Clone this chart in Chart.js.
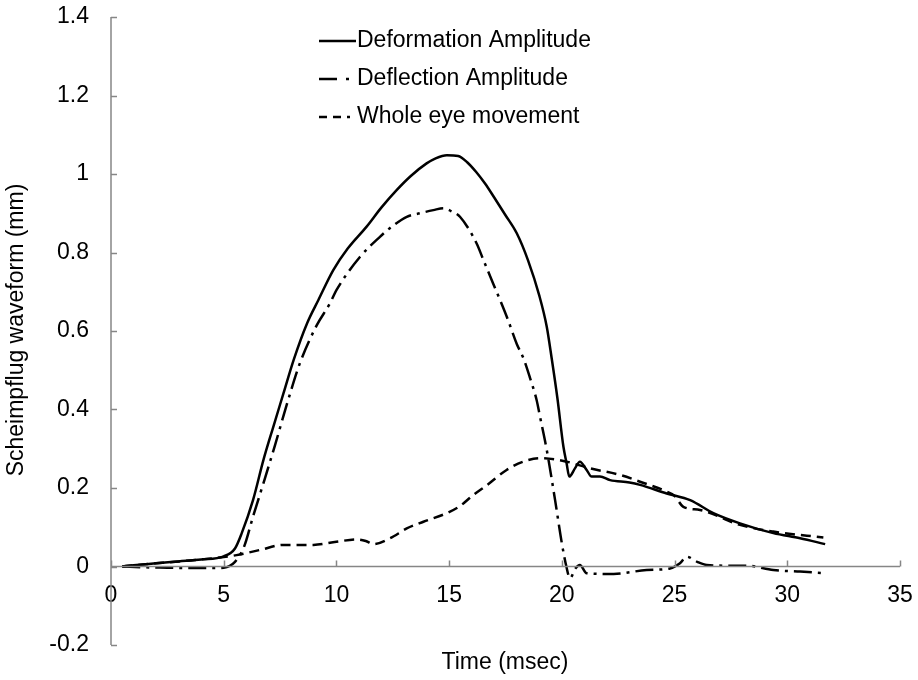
<!DOCTYPE html>
<html>
<head>
<meta charset="utf-8">
<script src="https://cdn.jsdelivr.net/npm/chart.js@4.4.0/dist/chart.umd.min.js"></script>
<style>
  html, body { margin: 0; padding: 0; background: #fff; }
</style>
</head>
<body>
<canvas id="waveChart" width="918" height="680"></canvas>
<script>
// Series data (time in msec, value in mm)
const deformTime = [0.5, 1, 2, 3, 4, 5, 5.5, 5.8, 6.3, 6.76, 7.2, 7.65, 8.1, 8.7, 9.2, 9.86, 10.5, 11.34, 12.0, 12.67, 13.3, 14.0, 14.4, 14.9, 15.4, 15.8, 16.2, 16.6, 17.0, 17.5, 18.0, 18.5, 19.0, 19.33, 19.55, 19.8, 20.07, 20.21, 20.33, 20.58, 20.8, 21.1, 21.32, 21.69, 22.14, 23.0, 23.47, 24.65, 25.69, 26.72, 27.9, 29.38, 30.57, 31.68];
const deformValue = [0, 0.003, 0.008, 0.013, 0.018, 0.026, 0.046, 0.085, 0.169, 0.271, 0.356, 0.441, 0.526, 0.62, 0.679, 0.755, 0.81, 0.866, 0.915, 0.959, 0.995, 1.027, 1.04, 1.048, 1.046, 1.03, 1.005, 0.975, 0.94, 0.895, 0.849, 0.78, 0.69, 0.611, 0.53, 0.43, 0.305, 0.263, 0.229, 0.25, 0.267, 0.246, 0.229, 0.229, 0.22, 0.214, 0.208, 0.186, 0.169, 0.136, 0.11, 0.085, 0.072, 0.057];

const deflectTime = [0.5, 1.5, 2.5, 3.5, 4.5, 5.0, 5.5, 5.9, 6.3, 6.76, 7.28, 7.79, 8.38, 9.13, 9.71, 10.0, 11.05, 11.93, 12.5, 13.12, 13.7, 14.3, 14.75, 15.1, 15.48, 16.22, 16.52, 16.96, 17.26, 17.6, 18.0, 18.3, 18.59, 18.88, 19.03, 19.33, 19.7, 20.0, 20.2, 20.36, 20.6, 20.8, 21.1, 22.3, 23.76, 24.8, 25.24, 25.54, 26.0, 26.43, 27.6, 28.2, 29.38, 30.57, 31.68];
const deflectValue = [0, -0.002, -0.003, -0.004, -0.004, -0.003, 0.012, 0.05, 0.127, 0.212, 0.31, 0.411, 0.518, 0.615, 0.67, 0.704, 0.789, 0.84, 0.868, 0.891, 0.9, 0.908, 0.913, 0.905, 0.891, 0.823, 0.781, 0.72, 0.679, 0.63, 0.567, 0.53, 0.48, 0.424, 0.382, 0.297, 0.169, 0.059, 0.0, -0.03, -0.005, 0.004, -0.017, -0.019, -0.009, -0.005, 0.008, 0.025, 0.012, 0.004, 0.002, 0.002, -0.009, -0.013, -0.017];

const eyeTime = [0.5, 1, 2, 3, 4, 5, 5.57, 6.6, 7.65, 8.98, 10.0, 10.9, 11.3, 11.64, 12.38, 13.12, 13.86, 14.9, 15.48, 16.07, 16.67, 17.55, 18.29, 19.03, 20.07, 21.26, 22.6, 23.47, 24.65, 25.0, 25.39, 26.13, 27.9, 29.38, 31.6];
const eyeValue = [0, 0.003, 0.008, 0.013, 0.018, 0.024, 0.029, 0.042, 0.055, 0.055, 0.063, 0.069, 0.065, 0.057, 0.072, 0.097, 0.114, 0.136, 0.154, 0.182, 0.207, 0.246, 0.267, 0.276, 0.269, 0.25, 0.233, 0.216, 0.191, 0.18, 0.152, 0.144, 0.106, 0.089, 0.074];

const seriesNames = ['Deformation Amplitude', 'Deflection Amplitude', 'Whole eye movement'];
const xTitle = 'Time (msec)';
const yTitle = 'Scheimpflug waveform (mm)';

const FONT = 'Arial, "Liberation Sans", sans-serif';
const FONT_SIZE = 23;
const AXIS_COLOR = '#868686';

function toPoints(xs, ys) {
  return xs.map((x, i) => ({ x: x, y: ys[i] }));
}

// keep the plot area exactly where the layout padding puts it
function noOverhang(scale) {
  scale.paddingTop = 0;
  scale.paddingBottom = 0;
  scale.paddingLeft = 0;
  scale.paddingRight = 0;
}

// Axes, titles and legend drawn by hand to look like the original
const decorPlugin = {
  id: 'decor',
  afterDraw(chart) {
    const ctx = chart.ctx;
    const xs = chart.scales.x;
    const ys = chart.scales.y;
    const area = chart.chartArea;
    const x0 = xs.getPixelForValue(0);
    const y0 = ys.getPixelForValue(0);

    ctx.save();
    ctx.strokeStyle = AXIS_COLOR;
    ctx.lineWidth = 1.5;
    ctx.beginPath();
    ctx.moveTo(x0, area.top);
    ctx.lineTo(x0, area.bottom);
    for (let v = -0.2; v <= 1.401; v += 0.2) {
      const py = Math.round(ys.getPixelForValue(v)) + 0.5;
      ctx.moveTo(x0, py);
      ctx.lineTo(x0 + 6, py);
    }
    ctx.moveTo(area.left, y0);
    ctx.lineTo(area.right, y0);
    for (let v = 0; v <= 35; v += 5) {
      const px = Math.round(xs.getPixelForValue(v)) + 0.5;
      ctx.moveTo(px, y0);
      ctx.lineTo(px, y0 - 6);
    }
    ctx.stroke();

    // titles
    ctx.fillStyle = '#000';
    ctx.font = FONT_SIZE + 'px ' + FONT;
    ctx.textAlign = 'center';
    ctx.textBaseline = 'middle';
    ctx.fillText(xTitle, 505, 663);
    ctx.translate(17, 330);
    ctx.rotate(-Math.PI / 2);
    ctx.fillText(yTitle, 0, 0);
    ctx.restore();

    // legend
    ctx.save();
    const rows = [41, 79, 117];
    chart.data.datasets.forEach((ds, i) => {
      ctx.strokeStyle = '#000';
      ctx.lineWidth = 2.5;
      ctx.setLineDash(ds.legendDash);
      ctx.beginPath();
      ctx.moveTo(319, rows[i]);
      ctx.lineTo(i === 0 ? 356 : 350, rows[i]);
      ctx.stroke();
      ctx.setLineDash([]);
      ctx.fillStyle = '#000';
      ctx.font = FONT_SIZE + 'px ' + FONT;
      ctx.textAlign = 'left';
      ctx.textBaseline = 'middle';
      ctx.fillText(ds.label, 357, rows[i]);
    });
    ctx.restore();
  }
};

new Chart(document.getElementById('waveChart').getContext('2d'), {
  type: 'line',
  data: {
    datasets: [
      {
        label: seriesNames[0],
        data: toPoints(deformTime, deformValue),
        borderColor: '#000',
        borderWidth: 2.5,
        borderDash: [],
        legendDash: [],
        pointRadius: 0,
        cubicInterpolationMode: 'monotone'
      },
      {
        label: seriesNames[1],
        data: toPoints(deflectTime, deflectValue),
        borderColor: '#000',
        borderWidth: 2.5,
        borderDash: [18, 6, 3, 6],
        legendDash: [18, 9, 3, 9],
        pointRadius: 0,
        cubicInterpolationMode: 'monotone'
      },
      {
        label: seriesNames[2],
        data: toPoints(eyeTime, eyeValue),
        borderColor: '#000',
        borderWidth: 2.5,
        borderDash: [10, 6],
        legendDash: [8, 6],
        pointRadius: 0,
        cubicInterpolationMode: 'monotone'
      }
    ]
  },
  options: {
    responsive: false,
    animation: false,
    layout: { padding: { top: 17, right: 18, bottom: 35, left: 0 } },
    plugins: {
      legend: { display: false },
      tooltip: { enabled: false }
    },
    scales: {
      x: {
        type: 'linear',
        min: 0,
        max: 35,
        position: { y: 0 },
        grid: { display: false },
        border: { display: false },
        afterFit: noOverhang,
        ticks: { stepSize: 5, color: '#000', font: { size: FONT_SIZE, family: FONT }, padding: 7, maxRotation: 0 }
      },
      y: {
        min: -0.2,
        max: 1.4,
        grid: { display: false },
        border: { display: false },
        afterFit: scale => { scale.width = 111; noOverhang(scale); },
        ticks: {
          stepSize: 0.2,
          color: '#000',
          font: { size: FONT_SIZE, family: FONT },
          padding: 14,
          callback: v => String(Math.round(v * 10) / 10)
        }
      }
    }
  },
  plugins: [decorPlugin]
});
</script>
</body>
</html>
